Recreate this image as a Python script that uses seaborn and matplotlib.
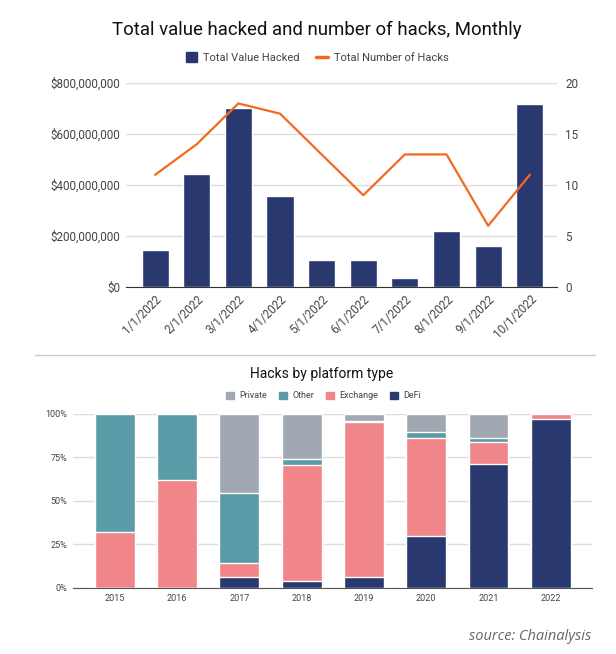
import matplotlib
matplotlib.use("Agg")
import matplotlib.pyplot as plt
import seaborn as sns
import pandas as pd
import numpy as np
from matplotlib.ticker import FuncFormatter
from matplotlib.patches import Patch
from matplotlib.lines import Line2D

# ================= DATOS =================
months = ['1/1/2022', '2/1/2022', '3/1/2022', '4/1/2022', '5/1/2022',
          '6/1/2022', '7/1/2022', '8/1/2022', '9/1/2022', '10/1/2022']
value_hacked = [146e6, 442e6, 702e6, 356e6, 106e6, 106e6, 35e6, 218e6, 162e6, 716e6]
num_hacks = [11, 14, 18, 17, 13, 9, 13, 13, 6, 11]

years = ['2015', '2016', '2017', '2018', '2019', '2020', '2021', '2022']
defi = [0, 0, 6.1, 4.2, 6.5, 29.6, 71.4, 97.1]
exchange = [32.4, 62.0, 8.5, 66.2, 88.7, 56.8, 12.7, 2.9]
other = [67.6, 38.0, 40.0, 3.9, 0.6, 3.4, 2.3, 0]
private = [0, 0, 45.4, 25.7, 4.2, 10.2, 13.6, 0]

# ================= ESTILO =================
NAVY = '#29386e'
ORANGE = '#f26a21'
PINK = '#f0858a'
TEAL = '#5b9ba8'
GRAY = '#a1a8b1'
TXT = '#444444'

sns.set_style("white")
plt.rcParams['font.family'] = ['Roboto', 'DejaVu Sans']

fig = plt.figure(figsize=(6.16, 6.54), dpi=100)

# --- GRAFICO 1: valor hackeado + numero de hacks ---
ax1 = fig.add_axes([0.2045, 0.5612, 0.6995, 0.3118])
df_top = pd.DataFrame({'month': months, 'value': value_hacked, 'hacks': num_hacks})
sns.barplot(data=df_top, x='month', y='value', color=NAVY, saturation=1,
            width=0.65, ax=ax1, zorder=2)
ax1.set_ylim(0, 800e6)
ax1.set_yticks(np.arange(0, 800e6 + 1, 200e6))
ax1.yaxis.set_major_formatter(FuncFormatter(lambda v, _: f'${v:,.0f}'))
ax1.set_xlim(-0.7, 9.65)
ax1.grid(axis='y', color='#dddddd', linewidth=1, zorder=0)
ax1.set_axisbelow(True)
for s in ['top', 'right', 'left']:
    ax1.spines[s].set_visible(False)
ax1.spines['bottom'].set_color('#333333')
ax1.set_xlabel('')
ax1.set_ylabel('')
ax1.tick_params(axis='both', length=0, labelsize=8.4, colors=TXT, pad=4)
plt.setp(ax1.get_xticklabels(), rotation=45, ha='right', rotation_mode='anchor')

ax2 = ax1.twinx()
sns.lineplot(x=np.arange(len(months)), y=num_hacks, color=ORANGE, linewidth=1.6, ax=ax2)
ax2.set_ylim(0, 20)
ax2.set_yticks([0, 5, 10, 15, 20])
for s in ['top', 'right', 'left', 'bottom']:
    ax2.spines[s].set_visible(False)
ax2.tick_params(axis='y', length=0, labelsize=8.4, colors=TXT, pad=6)
ax2.set_ylabel('')

fig.text(0.515, 0.954, 'Total value hacked and number of hacks, Monthly',
         ha='center', va='center', fontsize=13.4, color='#111111')
handles_top = [Patch(facecolor=NAVY, edgecolor=NAVY),
               Line2D([0], [0], color=ORANGE, linewidth=2.5)]
fig.legend(handles_top, ['Total Value Hacked', 'Total Number of Hacks'],
           loc='center', bbox_to_anchor=(0.515, 0.912), ncol=2, frameon=False,
           fontsize=8, handlelength=1.0, handleheight=1.0, columnspacing=1.5,
           handletextpad=0.6, labelcolor=TXT)

# separador
fig.add_artist(Line2D([35 / 616, 595 / 616], [1 - 355 / 654, 1 - 355 / 654],
                      color='#cccccc', linewidth=1))

# --- GRAFICO 2: hacks por tipo de plataforma ---
ax3 = fig.add_axes([0.1185, 0.101, 0.8425, 0.266])
df_bot = pd.DataFrame({'year': years, 'DeFi': defi, 'Exchange': exchange,
                       'Other': other, 'Private': private})
capas = ['DeFi', 'Exchange', 'Other', 'Private']
colores = {'DeFi': NAVY, 'Exchange': PINK, 'Other': TEAL, 'Private': GRAY}
acumulado = df_bot[capas].cumsum(axis=1)
# dibujar de arriba hacia abajo para simular apilado
for capa in reversed(capas):
    sns.barplot(x=df_bot['year'], y=acumulado[capa], color=colores[capa],
                saturation=1, width=0.64, ax=ax3, zorder=2)
ax3.set_ylim(0, 100)
ax3.set_yticks([0, 25, 50, 75, 100])
ax3.yaxis.set_major_formatter(FuncFormatter(lambda v, _: f'{v:.0f}%'))
ax3.set_xlim(-0.67, 7.66)
ax3.grid(axis='y', color='#dddddd', linewidth=1, zorder=0)
ax3.set_axisbelow(True)
for s in ['top', 'right', 'left']:
    ax3.spines[s].set_visible(False)
ax3.spines['bottom'].set_color('#555555')
ax3.set_xlabel('')
ax3.set_ylabel('')
ax3.tick_params(axis='both', length=0, labelsize=6.5, colors=TXT, pad=4)

fig.text(0.522, 1 - 374 / 654, 'Hacks by platform type',
         ha='center', va='center', fontsize=10, color='#111111')
orden_leyenda = ['Private', 'Other', 'Exchange', 'DeFi']
handles_bot = [Patch(facecolor=colores[c], edgecolor=colores[c]) for c in orden_leyenda]
fig.legend(handles_bot, orden_leyenda, loc='center',
           bbox_to_anchor=(0.525, 1 - 396 / 654), ncol=4, frameon=False,
           fontsize=6.5, handlelength=0.9, handleheight=0.9, columnspacing=1.3,
           handletextpad=0.6, labelcolor=TXT)

fig.text(591 / 616, 1 - 637 / 654, 'source: Chainalysis', ha='right', va='center',
         fontsize=10.5, style='italic', color='#666666',
         family=['Open Sans', 'DejaVu Sans'])

fig.savefig('out.png', dpi=100)
